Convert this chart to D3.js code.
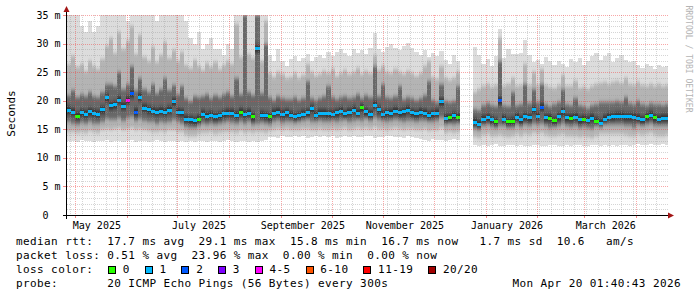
<!DOCTYPE html>
<html>
<head>
<meta charset="utf-8">
<script src="https://cdn.jsdelivr.net/npm/d3@7"></script>
<style>
  html, body { margin: 0; padding: 0; background: #fff; }
  svg { display: block; font-family: "DejaVu Sans Mono", monospace; }
  .pre { white-space: pre; }
</style>
</head>
<body>
<div id="chart"></div>
<script>
// one sample every 2.5 days, first one on 26 Apr 2025
const startDate = new Date(2025, 3, 26);
const endDate = new Date(2026, 3, 20);
const stepDays = 2.5;

// median rtt per sample (ms), null = no data
const medianMs = [
  18.3,18.0,17.3,17.9,17.6,18.1,17.8,17.6,18.4,20.5,19.1,19.3,20.1,19.0,20.1,21.2,18.0,20.6,18.7,18.4,
  18.2,18.0,18.2,18.0,18.3,19.8,18.0,17.9,16.8,16.7,16.5,16.8,17.6,17.3,17.5,17.2,17.4,17.7,17.8,17.8,
  17.5,18.0,17.6,17.8,17.2,29.1,17.5,17.4,17.2,17.8,18.0,17.6,17.9,
  17.5,17.2,17.4,17.6,17.9,18.6,17.5,17.8,17.8,17.7,17.6,17.9,18.2,17.7,18.0,18.3,17.8,18.8,18.1,17.6,
  19.2,18.4,17.6,17.9,17.8,18.2,17.9,18.1,18.3,17.9,17.7,18.0,17.8,17.5,17.7,17.8,19.8,16.9,17.0,17.4,17.1,
  null,null,null,
  16.2,15.9,16.8,17.0,16.7,16.3,20.0,16.8,16.3,16.4,17.1,16.7,17.2,17.0,18.4,17.3,18.9,17.0,16.9,16.5,
  17.2,18.1,17.0,16.9,17.1,16.7,16.8,16.6,16.9,16.4,16.1,16.8,17.1,17.2,17.3,17.3,17.2,17.2,17.1,16.9,
  16.7,17.2,17.5,17.0,16.8,16.9,16.9
];

// smoke: lowest and highest ping
const smokeMin = [
  12.9,13.0,12.8,13.1,12.9,13.0,12.7,13.0,12.9,13.1,12.8,12.9,13.0,12.7,12.9,13.1,12.8,13.0,12.9,12.8,
  13.0,13.1,12.9,12.8,13.0,12.9,12.7,13.0,12.8,12.9,12.7,12.9,13.0,12.8,12.9,13.0,12.8,12.9,13.1,12.9,
  12.8,13.0,12.9,12.8,12.9,12.7,13.0,13.1,13.6,13.7,13.5,13.8,13.6,
  13.7,13.8,13.6,13.9,13.5,13.7,13.8,13.6,13.9,13.7,13.8,13.5,13.6,13.9,13.7,13.8,13.6,13.7,13.9,13.8,
  13.5,13.6,13.7,13.8,13.9,13.6,13.7,13.5,13.8,13.6,13.4,13.3,13.2,13.0,13.3,13.1,13.2,13.0,13.1,13.3,13.2,
  null,null,null,
  12.2,12.1,12.3,12.0,12.2,12.4,12.1,12.0,12.2,12.3,12.1,12.2,12.0,12.1,12.3,12.2,12.0,12.1,12.2,12.3,
  12.1,12.0,12.2,12.1,12.3,12.2,12.0,12.1,12.2,12.3,12.1,12.2,12.0,12.2,12.1,12.3,12.2,12.1,12.3,12.4,
  12.2,12.3,12.4,12.2,12.3,12.4,12.3
];
const smokeMax = [
  36,36,35.5,33,32,34,32,33,36,36,35,36,36,36,34,36,36,36,35,36,
  36,34,36,36,35,35,36,35,34,31,30,32,29,30,31,29,29,28,30,29,
  36,36,36,36,36,36,35,35,28,27,29,27,26,
  27.3,27.8,26.9,27.5,28.2,27.0,27.6,28.0,27.4,28.5,27.9,28.6,29.0,28.3,27.8,29.1,28.4,28.9,28.2,29.3,
  31.8,29.0,28.6,29.4,30.0,29.2,28.8,29.6,30.1,29.3,28.5,28.0,28.9,27.6,28.4,27.9,28.7,27.2,26.5,28.0,27.0,
  null,null,null,
  29.4,28.0,26.5,27.3,26.1,27.8,32.5,27.5,29.0,28.2,28.2,28.4,30.6,28.0,26.8,27.2,26.4,27.7,26.9,26.2,
  27.0,26.5,25.9,27.3,26.8,27.5,26.3,26.9,27.8,28.3,27.1,27.9,28.4,26.8,27.5,28.0,27.2,26.7,27.0,26.2,
  25.8,26.4,26.0,25.6,26.3,25.9,26.1
];
// smoke: outer quantiles (mid grey)
const smokeLo2 = [
  14.6,14.5,14.4,14.6,14.3,14.7,14.5,14.4,14.8,15.0,14.9,15.1,15.2,14.9,15.0,15.3,14.8,15.0,14.8,14.7,
  14.6,14.5,14.7,14.6,14.8,14.9,14.6,14.5,14.0,13.9,13.8,14.1,14.4,14.3,14.5,14.2,14.4,14.6,14.6,14.5,
  14.3,14.7,14.4,14.6,14.3,14.5,14.6,14.4,14.7,14.9,15.0,14.8,15.0,
  14.9,14.8,14.9,15.0,15.1,14.8,14.9,15.0,14.9,14.8,15.1,14.9,15.0,15.2,14.9,15.1,15.2,15.0,15.3,15.0,
  15.4,15.1,15.0,14.9,15.1,15.2,15.0,14.8,15.1,15.0,14.8,14.9,15.0,14.7,14.8,14.9,15.2,14.4,14.5,14.3,14.5,
  null,null,null,
  13.6,13.4,14.0,14.2,13.9,13.8,14.0,13.9,13.7,13.8,14.1,13.9,14.2,14.0,14.3,14.1,14.3,14.0,13.8,13.9,
  14.0,14.2,13.9,13.8,13.9,13.7,13.8,13.6,13.5,13.9,14.1,14.2,14.2,14.1,14.2,14.1,14.0,13.9,13.8,14.1,
  14.0,14.2,14.3,14.0,13.9,13.9,14.0
];
const smokeHi2 = [
  26.5,27.8,25.9,26.4,25.2,27.0,26.1,25.6,27.3,29.5,31.0,28.4,32.0,29.0,30.5,33.0,28.2,31.5,27.6,27.0,
  29.4,26.8,28.0,30.2,27.4,28.8,27.0,28.5,26.2,25.8,27.1,26.0,25.4,26.6,25.9,26.8,25.5,26.2,27.0,26.4,
  33.5,27.6,36.0,28.2,27.4,36.0,27.0,34.0,24.8,24.2,25.0,24.6,24.0,
  24.2,24.8,23.9,24.5,26.5,25.0,24.3,24.7,25.2,24.9,25.6,24.4,24.8,25.3,24.6,25.0,25.8,24.7,25.2,24.9,
  28.0,25.4,26.0,25.1,24.8,25.5,25.0,24.6,25.2,24.9,24.4,24.8,26.0,27.0,24.2,23.8,26.0,23.9,23.6,24.0,25.0,
  null,null,null,
  21.5,22.0,22.6,23.0,22.4,22.8,31.0,22.6,22.9,24.0,22.5,22.7,26.5,22.8,25.0,22.7,25.5,22.8,22.4,22.3,
  22.8,24.5,22.6,22.5,23.5,22.2,22.4,22.0,22.6,22.9,23.1,23.3,23.0,23.2,23.4,23.1,24.0,23.0,22.8,23.3,
  22.7,22.5,23.0,22.6,22.9,22.5,22.7
];
// smoke: inner quantiles (dark grey)
const smokeLo1 = [
  16.2,16.0,15.8,16.1,15.9,16.2,16.0,15.9,16.3,16.8,16.6,16.7,17.0,16.5,16.9,17.2,16.4,16.8,16.5,16.3,
  16.2,16.0,16.2,16.1,16.3,16.6,16.2,16.0,15.4,15.3,15.2,15.5,15.9,15.8,16.0,15.7,15.9,16.1,16.2,16.1,
  15.9,16.3,16.0,16.2,15.8,16.0,16.1,15.9,15.8,16.2,16.4,16.1,16.3,
  16.3,16.1,16.2,16.4,16.6,16.2,16.3,16.4,16.3,16.2,16.5,16.3,16.4,16.6,16.3,16.5,16.7,16.4,16.8,16.5,
  17.0,16.6,16.4,16.3,16.5,16.6,16.4,16.2,16.5,16.4,16.3,16.4,16.5,16.2,16.3,16.4,16.9,15.8,15.9,15.7,15.9,
  null,null,null,
  15.0,14.8,15.5,15.7,15.4,15.3,15.6,15.5,15.2,15.3,15.7,15.4,15.8,15.6,15.9,15.7,16.0,15.6,15.3,15.4,
  15.6,15.9,15.5,15.4,15.5,15.3,15.4,15.2,15.0,15.5,15.7,15.8,15.8,15.7,15.8,15.7,15.6,15.5,15.3,15.7,
  15.6,15.8,16.0,15.6,15.5,15.5,15.6
];
const smokeHi1 = [
  21.0,21.8,20.6,21.2,20.8,21.5,20.9,20.7,21.6,23.0,23.0,22.5,25.0,22.0,23.0,26.0,21.8,24.0,22.0,21.6,
  23.0,21.4,22.0,24.0,21.8,22.8,21.2,22.5,20.4,20.0,20.8,20.6,20.9,21.2,20.5,21.0,20.6,21.1,21.5,20.8,
  24.0,21.2,36.0,21.6,21.0,36.0,21.3,30.0,20.6,20.2,20.8,20.4,20.3,
  20.3,20.6,20.1,20.4,23.5,20.5,20.2,20.4,20.8,22.5,20.7,20.3,20.6,20.9,20.4,20.6,21.2,20.5,21.0,20.7,
  26.0,20.9,23.0,20.6,20.4,20.8,22.5,20.3,20.7,20.5,20.2,20.4,21.0,23.5,20.1,19.8,23.0,19.9,19.7,20.0,22.5,
  null,null,null,
  18.6,18.4,19.3,19.6,19.2,19.0,27.0,19.3,19.1,21.5,19.2,19.5,23.0,19.6,22.0,19.8,23.0,19.4,19.0,19.5,
  19.7,22.0,19.4,19.3,20.5,19.2,19.1,18.8,19.3,19.5,19.7,19.8,19.7,19.8,19.9,19.7,20.6,19.6,19.4,19.9,
  19.5,19.3,19.6,19.4,19.5,19.3,19.4
];

// lost pings (of 20) per sample
const lossPings = [
  1,1,0,1,1,1,1,1,1,1, 1,1,1,1,4,2,2,1,1,1, 1,1,1,1,1,1,1,1,1,1, 1,0,1,1,1,1,1,1,1,1,
  1,0,1,1,0,1,1,1,0,1, 1,1,1,1,1,1,1,1,1,1, 1,1,1,1,1,1,1,1,1,1, 0,1,1,1,1,1,1,1,1,1,
  1,1,1,1,1,1,1,1,1,1, 1,0,1,0,null,null,null,1,1,1, 1,1,0,2,1,0,0,1,1,1, 1,1,1,2,1,0,0,1,1,1,
  0,1,1,0,1,1,0,1,1,1, 1,1,1,1,1,1,1,1,0,1, 0,1,1,1
];

const lossLabels = ["0", "1", "2", "3", "4-5", "6-10", "11-19", "20/20"];
const lossUpper  = [0, 1, 2, 3, 5, 10, 19, 20];
const lossColors = ["#26ff00", "#00b8ff", "#0059ff", "#7e00ff", "#ff00ff", "#ff5500", "#ff0000", "#a10000"];

const yTicks = [0, 5, 10, 15, 20, 25, 30, 35];
const xLabelMonths = [new Date(2025, 4, 1), new Date(2025, 6, 1), new Date(2025, 8, 1),
                      new Date(2025, 10, 1), new Date(2026, 0, 1), new Date(2026, 2, 1)];

const legendLines = [
  "median rtt:  17.7 ms avg  29.1 ms max  15.8 ms min  16.7 ms now   1.7 ms sd  10.6   am/s",
  "packet loss: 0.51 % avg  23.96 % max  0.00 % min  0.00 % now",
  "loss color:",
  "probe:       20 ICMP Echo Pings (56 Bytes) every 300s"
];
const stampText = "Mon Apr 20 01:40:43 2026";

const width = 697, height = 297;
const plot = { left: 67, right: 668, top: 15, bottom: 215 };

const svg = d3.select("#chart").append("svg")
  .attr("width", width)
  .attr("height", height);

svg.append("rect").attr("width", width).attr("height", height).attr("fill", "#fff");

const x = d3.scaleTime().domain([startDate, endDate]).range([plot.left, plot.right]);
const y = d3.scaleLinear().domain([0, 35]).range([plot.bottom, plot.top]).clamp(true);

const sampleTime = i => new Date(startDate.getTime() + i * stepDays * 864e5);

const defs = svg.append("defs");
defs.append("clipPath").attr("id", "clip")
  .append("rect")
  .attr("x", plot.left).attr("y", plot.top)
  .attr("width", plot.right - plot.left).attr("height", plot.bottom - plot.top);
// soften the band edges vertically only, so the smoke fades like the original
defs.append("filter").attr("id", "soft")
  .attr("x", "-2%").attr("y", "-10%").attr("width", "104%").attr("height", "120%")
  .append("feGaussianBlur").attr("stdDeviation", "0.3 2.2");

const idx = d3.range(medianMs.length).filter(i => medianMs[i] != null);
const graph = svg.append("g").attr("clip-path", "url(#clip)");

const colX = i => x(sampleTime(i));
const colW = i => x(sampleTime(i + 1)) - x(sampleTime(i));

function drawBand(parent, lo, hi, color) {
  parent.append("g").selectAll("rect")
    .data(idx)
    .enter().append("rect")
    .attr("x", colX)
    .attr("width", colW)
    .attr("y", i => y(hi[i]))
    .attr("height", i => y(lo[i]) - y(hi[i]))
    .attr("fill", color)
    .attr("shape-rendering", "crispEdges");
}

// outer smoke stays crisp
drawBand(graph, smokeMin, smokeMax, "#dcdcdc");

// inner smoke gets the soft edges
const soft = graph.append("g").attr("filter", "url(#soft)");
drawBand(soft, smokeLo2, smokeHi2, "#b4b4b4");
drawBand(soft, smokeLo1, smokeHi1, "#686868");
soft.append("g").selectAll("rect")
  .data(idx)
  .enter().append("rect")
  .attr("x", colX)
  .attr("width", colW)
  .attr("y", i => y(medianMs[i]) - 4)
  .attr("height", 8)
  .attr("fill", "#2c2c2c")
  .attr("shape-rendering", "crispEdges");

const lossColor = n => lossColors[lossUpper.findIndex(u => n <= u)];

// median marks coloured by loss
graph.append("g").selectAll("rect")
  .data(idx)
  .enter().append("rect")
  .attr("x", colX)
  .attr("width", colW)
  .attr("y", i => y(medianMs[i]) - 1.5)
  .attr("height", 3)
  .attr("fill", i => lossColor(lossPings[i]))
  .attr("shape-rendering", "crispEdges");

// grid on top of the smoke
const grid = svg.append("g").attr("shape-rendering", "crispEdges");
const minorY = d3.range(1, 35).filter(v => v % 5 !== 0);
const mondays = d3.timeMonday.range(startDate, endDate).filter(d => d.getDate() !== 1);
const months = d3.timeMonth.range(startDate, endDate);
const px = v => Math.round(v) + 0.5;

grid.selectAll("line.minor-h").data(minorY).enter().append("line")
  .attr("x1", plot.left).attr("x2", plot.right)
  .attr("y1", d => px(y(d))).attr("y2", d => px(y(d)))
  .attr("stroke", "rgba(150,150,150,0.4)").attr("stroke-dasharray", "1,1");
grid.selectAll("line.minor-v").data(mondays).enter().append("line")
  .attr("y1", plot.top).attr("y2", plot.bottom)
  .attr("x1", d => px(x(d))).attr("x2", d => px(x(d)))
  .attr("stroke", "rgba(150,150,150,0.4)").attr("stroke-dasharray", "1,1");
grid.selectAll("line.major-h").data(yTicks.filter(v => v > 0)).enter().append("line")
  .attr("x1", plot.left).attr("x2", plot.right)
  .attr("y1", d => px(y(d))).attr("y2", d => px(y(d)))
  .attr("stroke", "rgba(240,60,60,0.45)").attr("stroke-dasharray", "1,1");
grid.selectAll("line.major-v").data(months).enter().append("line")
  .attr("y1", plot.top).attr("y2", plot.bottom)
  .attr("x1", d => px(x(d))).attr("x2", d => px(x(d)))
  .attr("stroke", "rgba(240,60,60,0.45)").attr("stroke-dasharray", "1,1");

// small ticks below / left of the axes
grid.selectAll("line.tick-x").data(months).enter().append("line")
  .attr("y1", plot.bottom).attr("y2", plot.bottom + 3)
  .attr("x1", d => px(x(d))).attr("x2", d => px(x(d)))
  .attr("stroke", "rgba(240,60,60,0.6)");
grid.selectAll("line.tick-y").data(yTicks).enter().append("line")
  .attr("x1", plot.left - 4).attr("x2", plot.left)
  .attr("y1", d => px(y(d))).attr("y2", d => px(y(d)))
  .attr("stroke", "rgba(240,60,60,0.6)");

// axes
const axisX = Math.round(plot.left) - 0.5;
svg.append("line")
  .attr("x1", plot.left - 4).attr("x2", plot.right + 2)
  .attr("y1", plot.bottom + 0.5).attr("y2", plot.bottom + 0.5)
  .attr("stroke", "#000").attr("shape-rendering", "crispEdges");
svg.append("line")
  .attr("x1", axisX).attr("x2", axisX)
  .attr("y1", plot.bottom + 4).attr("y2", plot.top - 4)
  .attr("stroke", "#000").attr("shape-rendering", "crispEdges");
svg.append("path")
  .attr("d", `M${plot.right},${plot.bottom - 2.5}L${plot.right + 6},${plot.bottom + 0.5}L${plot.right},${plot.bottom + 3.5}Z`)
  .attr("fill", "#a31515");
svg.append("path")
  .attr("d", `M${axisX - 3},${plot.top - 3}L${axisX},${plot.top - 9}L${axisX + 3},${plot.top - 3}Z`)
  .attr("fill", "#a31515");

// y labels
svg.selectAll("text.ylab").data(yTicks).enter().append("text")
  .attr("class", "pre")
  .attr("x", 60.5)
  .attr("y", d => y(d) + 3.6)
  .attr("text-anchor", "end")
  .attr("font-size", 10)
  .attr("fill", "#000")
  .text(d => d === 0 ? "0  " : d + " m");

// x labels
svg.selectAll("text.xlab").data(xLabelMonths).enter().append("text")
  .attr("x", d => x(d) + 21.5)
  .attr("y", 228.5)
  .attr("text-anchor", "middle")
  .attr("font-size", 10)
  .attr("fill", "#000")
  .text(d3.timeFormat("%B %Y"));

svg.append("text")
  .attr("transform", "translate(14.5,113.5) rotate(-90)")
  .attr("text-anchor", "middle")
  .attr("font-size", 11)
  .attr("fill", "#000")
  .text("Seconds");

svg.append("text")
  .attr("transform", "translate(686,59) rotate(90)")
  .attr("text-anchor", "middle")
  .attr("font-size", 8.1)
  .attr("fill", "#b4b4b4")
  .text("RRDTOOL / TOBI OETIKER");

// legend
const charW = 7.02;
const baselines = [244.8, 258.7, 272.6, 286.5];
svg.selectAll("text.leg").data(legendLines).enter().append("text")
  .attr("class", "pre")
  .attr("x", 16)
  .attr("y", (d, i) => baselines[i])
  .attr("font-size", 11)
  .attr("letter-spacing", 0.4)
  .attr("fill", "#000")
  .text(d => d);

let lx = 108;
lossLabels.forEach((lab, i) => {
  svg.append("rect")
    .attr("x", lx + 0.5).attr("y", 266.5)
    .attr("width", 7).attr("height", 7)
    .attr("fill", lossColors[i])
    .attr("stroke", "#000")
    .attr("shape-rendering", "crispEdges");
  const tx = lx + 14.7;
  svg.append("text")
    .attr("x", tx).attr("y", baselines[2])
    .attr("font-size", 11)
    .attr("letter-spacing", 0.4)
    .attr("fill", "#000")
    .text(lab);
  lx = tx + lab.length * charW + 15;
});

svg.append("text")
  .attr("x", 681).attr("y", baselines[3])
  .attr("text-anchor", "end")
  .attr("font-size", 11)
  .attr("letter-spacing", 0.4)
  .attr("fill", "#000")
  .text(stampText);
</script>
</body>
</html>
